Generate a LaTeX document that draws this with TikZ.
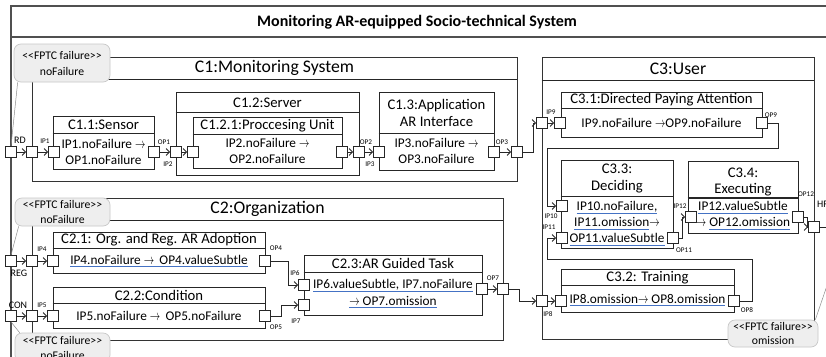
\documentclass[tikz,border=0pt]{standalone}
\usepackage{fontspec}
\setmainfont{Carlito}
\usepackage{graphicx}
\usetikzlibrary{arrows.meta,fit,calc}

\definecolor{ulblue}{HTML}{4472C4}
\definecolor{notefill}{HTML}{EEEEEE}
\definecolor{notedraw}{HTML}{C8C8C8}
\definecolor{framegray}{HTML}{505050}

% blue underline under a piece of text
\newcommand\ul[1]{\setbox0\hbox{#1}\rlap{\color{ulblue}\rule[-3pt]{\wd0}{1.1pt}}\box0}
% narrow arrow used inside the failure expressions
\newcommand\ra{\scalebox{0.72}[1]{$\rightarrow$}}
% stereotype text of the failure notes
\newcommand\stereo{<\kern0pt<FPTC failure>\kern0pt>}

\begin{document}
\begin{tikzpicture}[x=1pt,y=-1pt,line join=miter,
  outerframe/.style={draw=framegray,line width=1.3pt,inner sep=0pt},
  cont/.style={draw=black!80,line width=0.9pt,inner sep=0pt},
  comp/.style={draw=black!85,line width=0.9pt,inner sep=0pt},
  sep/.style={draw=black!85,line width=0.9pt},
  port/.style={draw=black!85,fill=white,line width=0.8pt,minimum size=11pt,inner sep=0pt},
  flow/.style={draw=black!85,line width=0.8pt,-{Straight Barb[length=3.5pt,width=7pt]}},
  note/.style={draw=notedraw,fill=notefill,rounded corners=7pt,line width=0.7pt,inner sep=0pt},
  notetext/.style={font=\fontsize{11.7}{15}\selectfont,align=center,inner sep=0pt},
  noteline/.style={draw=black!45,line width=0.5pt},
  maintitle/.style={font=\fontsize{16}{18}\selectfont\bfseries,inner sep=0pt},
  ctitle/.style={font=\fontsize{17.7}{20}\selectfont,inner sep=0pt},
  head/.style={font=\fontsize{14.7}{16.5}\selectfont,align=center,inner sep=0pt},
  body/.style={font=\fontsize{13.3}{16}\selectfont,align=center,inner sep=0pt},
  plabel/.style={font=\fontsize{7.2}{8}\selectfont,inner sep=0pt},
  elabel/.style={font=\fontsize{10}{12}\selectfont,inner sep=0pt}]

\useasboundingbox (0,0) rectangle (826,356);
\clip (0,0) rectangle (826,356);
\fill[white] (0,0) rectangle (826,356);

% ---- outer system frame and its title bar
\node[outerframe,fit={(11,6) (845,372)}] (outer) {};
\draw[draw=framegray,line width=1.3pt] (outer.west |- 0,37) -- (outer.east |- 0,37);
\node[maintitle] (title) at (417,22) {Monitoring AR-equipped Socio-technical System};

% ---- containers
\node[cont,fit={(32,57) (517,181)}] (c1) {};
\draw[sep] (c1.west |- 0,79) -- (c1.east |- 0,79);
\node[ctitle] (c1t) at (274.5,68) {C1:Monitoring System};

\node[cont,fit={(32,198) (503,340)}] (c2) {};
\draw[sep] (c2.west |- 0,220) -- (c2.east |- 0,220);
\node[ctitle] (c2t) at (267.5,209) {C2:Organization};

\node[cont,fit={(542,57) (814,339)}] (c3) {};
\draw[sep] (c3.west |- 0,80) -- (c3.east |- 0,80);
\node[ctitle] (c3t) at (678,68.5) {C3:User};

% ---- C1 components
\node[comp,fit={(53,116) (154,169)}] (c11) {};
\draw[sep] (c11.west |- 0,133) -- (c11.east |- 0,133);
\node[head] (c11t) at (103.5,124.5) {C1.1:Sensor};
\node[body] (c11b) at (103.5,151.5) {IP1.noFailure \ra\\OP1.noFailure};

\node[comp,fit={(176,92) (359,175)}] (c12) {};
\draw[sep] (c12.west |- 0,112) -- (c12.east |- 0,112);
\node[head] (c12t) at (267.5,102.5) {C1.2:Server};

\node[comp,fit={(193,117) (342,168)}] (c121) {};
\draw[sep] (c121.west |- 0,134) -- (c121.east |- 0,134);
\node[head] (c121t) at (267.5,125.5) {C1.2.1:Proccesing Unit};
\node[body] (c121b) at (267.5,151) {IP2.noFailure \ra\\OP2.noFailure};

\node[comp,fit={(379,92) (494,170)}] (c13) {};
\draw[sep] (c13.west |- 0,133) -- (c13.east |- 0,133);
\node[head] (c13t) at (436.5,113) {C1.3:Application\\AR Interface};
\node[body] (c13b) at (436.5,151) {IP3.noFailure \ra\\OP3.noFailure};

% ---- C2 components
\node[comp,fit={(53,232) (265,273)}] (c21) {};
\draw[sep] (c21.west |- 0,248) -- (c21.east |- 0,248);
\node[head] (c21t) at (159,240) {C2.1: Org. and Reg. AR Adoption};
\node[body] (c21b) at (159,261) {\ul{IP4.noFailure \ra~\,OP4.valueSubtle}};

\node[comp,fit={(53,287) (265,328)}] (c22) {};
\draw[sep] (c22.west |- 0,303) -- (c22.east |- 0,303);
\node[head] (c22t) at (159,295) {C2.2:Condition};
\node[body] (c22b) at (159,316) {IP5.noFailure \ra~\,OP5.noFailure};

\node[comp,fit={(304,255) (482,315)}] (c23) {};
\draw[sep] (c23.west |- 0,272) -- (c23.east |- 0,272);
\node[head] (c23t) at (393,263.5) {C2.3:AR Guided Task};
\node[body] (c23b1) at (393,285.5) {\ul{IP6.valueSubtle, IP7.noFailure}};
\node[body] (c23b2) at (393,302) {\ul{\ra\ OP7.omission}};

% ---- C3 components
\node[comp,fit={(561,92) (762,137)}] (c31) {};
\draw[sep] (c31.west |- 0,108) -- (c31.east |- 0,108);
\node[head] (c31t) at (661.5,100) {C3.1:Directed Paying Attention};
\node[body] (c31b) at (661.5,123) {IP9.noFailure \ra OP9.noFailure};

\node[comp,fit={(561,160) (673,248)}] (c33) {};
\draw[sep] (c33.west |- 0,196) -- (c33.east |- 0,196);
\node[head] (c33t) at (617,178.5) {C3.3:\\Deciding};
\node[body] (c33b) at (617,223.5) {\ul{IP10.noFailure,}\\\ul{IP11.omission}\ra\\\ul{OP11.valueSubtle}};

\node[comp,fit={(688,161) (798,233)}] (c34) {};
\draw[draw=black!85,line width=1.4pt] (c34.west |- 0,198) -- (c34.east |- 0,198);
\node[head] (c34t) at (743,182) {C3.4:\\Executing};
\node[body] (c34b) at (743,215.5) {\ul{IP12.valueSubtle}\\\ra\ \ul{OP12.omission}};

\node[comp,fit={(561,269) (734,312)}] (c32) {};
\draw[sep] (c32.west |- 0,285) -- (c32.east |- 0,285);
\node[head] (c32t) at (647.5,278) {C3.2: Training};
\node[body] (c32b) at (647.5,300) {\ul{IP8.omission\ra\ OP8.omission}};

% ---- ports
\node[port] (rd)   at (11,152) {};
\node[port] (c1i)  at (32,152) {};
\node[port] (ip1)  at (54,152) {};
\node[port] (op1)  at (154,152) {};
\node[port] (ip2)  at (176,152) {};
\node[port] (ip21) at (193,152) {};
\node[port] (op21) at (342,152) {};
\node[port] (op2)  at (359,152) {};
\node[port] (ip3)  at (379,152) {};
\node[port] (op3)  at (494,152) {};
\node[port] (c1o)  at (517,152) {};

\node[port] (c3i9) at (542,123) {};
\node[port] (ip9)  at (560,123) {};
\node[port] (op9)  at (762,123) {};
\node[port] (ip10) at (562,206) {};
\node[port] (ip11) at (562,238) {};
\node[port] (op11) at (673,238) {};
\node[port] (ip12) at (691,217) {};
\node[port] (op12) at (798,217) {};
\node[port] (hf)   at (814,227) {};
\node[port] (hfo)  at (845,227) {};
\node[port] (c3i8) at (542,301) {};
\node[port] (ip8)  at (561,301) {};
\node[port] (op8)  at (734,301) {};

\node[port] (reg)  at (11,261) {};
\node[port] (c2i4) at (32,261) {};
\node[port] (ip4)  at (53,261) {};
\node[port] (op4)  at (265,261) {};
\node[port] (ip6)  at (304,285) {};
\node[port] (con)  at (11,316) {};
\node[port] (c2i5) at (32,316) {};
\node[port] (ip5)  at (53,316) {};
\node[port] (op5)  at (265,316) {};
\node[port] (ip7)  at (304,305) {};
\node[port] (op7)  at (482,289) {};
\node[port] (c2o)  at (503,289) {};

% ---- connectors
\draw[flow] (rd) -- (c1i);
\draw[flow] (c1i) -- (ip1);
\draw[flow] (op1) -- (ip2);
\draw[flow] (ip2) -- (ip21);
\draw[flow] (op21) -- (op2);
\draw[flow] (op2) -- (ip3);
\draw[flow] (op3) -- (c1o);
\draw[flow] (c1o.east) -- ++(10,0) |- (c3i9);
\draw[flow] (c3i9) -- (ip9);
\draw[flow] (op9.east) -- ++(10,0) |- (547,148) |- (ip10);
\draw[flow] (op8.east) -- ++(12,0) |- (547,259) |- (ip11);
\draw[flow] (op11.east) -- ++(3,0) |- (ip12);
\draw[flow] (op12.east) -- ++(3,0) |- (hf);
\draw[flow] (hf) -- (hfo);
\draw[flow] (reg) -- (c2i4);
\draw[flow] (c2i4) -- (ip4);
\draw[flow] (con) -- (c2i5);
\draw[flow] (c2i5) -- (ip5);
\draw[flow] (op4.east) -- ++(17,0) |- (ip6);
\draw[flow] (op5.east) -- ++(10,0) |- (ip7);
\draw[flow] (op7) -- (c2o);
\draw[flow] (c2o.east) -- ++(10,0) |- (c3i8);
\draw[flow] (c3i8) -- (ip8);

% ---- port labels
\node[elabel] (lrd)  at (20,140) {RD};
\node[plabel] (lip1) at (45,141) {IP1};
\node[plabel] (lop1) at (164,142) {OP1};
\node[plabel] (lip2) at (168,164) {IP2};
\node[plabel] (lop2) at (366,142) {OP2};
\node[plabel] (lip3) at (370,164) {IP3};
\node[plabel] (lop3) at (502,142) {OP3};
\node[plabel] (lip9) at (551,112) {IP9};
\node[plabel] (lop9) at (771,115) {OP9};
\node[plabel] (lip10) at (551,216) {IP10};
\node[plabel] (lip11) at (549,227) {IP11};
\node[plabel] (lip12) at (680,206) {IP12};
\node[plabel] (lop11) at (684,250) {OP11};
\node[plabel] (lop12) at (806,194) {OP12};
\node[elabel,anchor=west] (lhf) at (817,204) {HF};
\node[plabel] (lop8) at (747,310) {OP8};
\node[plabel] (lip8) at (548,314) {IP8};
\node[elabel] (lreg) at (19,273) {REG};
\node[elabel] (lcon) at (18,305) {CON};
\node[plabel] (lip4) at (42,249) {IP4};
\node[plabel] (lip5) at (42,305) {IP5};
\node[plabel] (lop4) at (276,248) {OP4};
\node[plabel] (lop5) at (276,327) {OP5};
\node[plabel] (lip6) at (295,273) {IP6};
\node[plabel] (lip7) at (296,321) {IP7};
\node[plabel] (lop7) at (493,278) {OP7};

% ---- failure notes
\node[note,fit={(14,44) (110,82)}] (n1) {};
\node[notetext] (n1t) at (n1.center) {\stereo\\[1pt]noFailure};
\node[note,fit={(15,198) (110,226)}] (n2) {};
\node[notetext] (n2t) at (n2.center) {\stereo\\noFailure};
\node[note,fit={(15,333) (110,362)}] (n3) {};
\node[notetext] (n3t) at (n3.center) {\stereo\\noFailure};
\node[note,fit={(728,320) (818,347)}] (n4) {};
\node[notetext] (n4t) at (n4.center) {\stereo\\[-1pt]omission};

\draw[noteline] ($(n1.south west)+(4,0)$) -- (rd.north);
\draw[noteline] ($(n2.south west)+(4,0)$) -- (reg.north);
\draw[noteline] (con.south) -- ($(n3.north west)+(5,0)$);
\draw[noteline] ($(n4.north east)+(-3,0)$) -- (hfo.south);

\end{tikzpicture}
\end{document}
